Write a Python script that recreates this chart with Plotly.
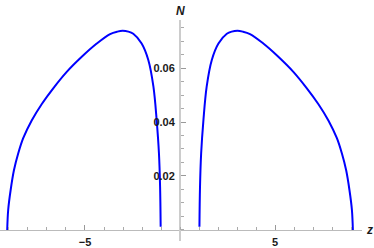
import plotly.graph_objects as go

# Left branch (z, N)
z_left = [-9.09, -9.04, -8.91, -8.74, -8.51, -8.25, -7.81, -7.28, -6.67, -5.96, -5.17, -4.38,
          -3.68, -3.30, -3.02, -2.72, -2.46, -2.02, -1.67, -1.40, -1.23, -1.11, -1.05, -1.02]
n_left = [0.0000, 0.0074, 0.0148, 0.0220, 0.0284, 0.0340, 0.0405, 0.0466, 0.0525, 0.0586, 0.0642, 0.0691,
          0.0726, 0.0735, 0.0738, 0.0735, 0.0727, 0.0691, 0.0630, 0.0531, 0.0407, 0.0284, 0.0160, 0.0012]

# Right branch (z, N)
z_right = [1.02, 1.05, 1.11, 1.23, 1.40, 1.67, 2.02, 2.46, 2.72, 3.02, 3.30, 3.68,
           4.38, 5.17, 5.96, 6.67, 7.28, 7.81, 8.25, 8.51, 8.74, 8.91, 9.04, 9.09]
n_right = [0.0012, 0.0160, 0.0284, 0.0407, 0.0531, 0.0630, 0.0691, 0.0727, 0.0735, 0.0738, 0.0735, 0.0726,
           0.0691, 0.0642, 0.0586, 0.0525, 0.0466, 0.0405, 0.0340, 0.0284, 0.0220, 0.0148, 0.0074, 0.0000]

x_ticks = [-5, 5]
x_tick_text = ["<b>\u22125</b>", "<b>5</b>"]
y_ticks = [0.02, 0.04, 0.06]
y_tick_text = ["<b>0.02</b>", "<b>0.04</b>", "<b>0.06</b>"]

x_range = [-9.47, 9.57]
y_range = [-0.0041, 0.0778]

line_style = dict(color="#0000ff", width=2, shape="spline", smoothing=1.0)

fig = go.Figure()
fig.add_trace(go.Scatter(x=z_left, y=n_left, mode="lines", line=line_style, hoverinfo="skip"))
fig.add_trace(go.Scatter(x=z_right, y=n_right, mode="lines", line=line_style, hoverinfo="skip"))

tick_font = dict(family="Liberation Sans, Arial, sans-serif", size=11, color="#1a1a1a")
y0_pos = (0 - y_range[0]) / (y_range[1] - y_range[0])
x0_pos = (0 - x_range[0]) / (x_range[1] - x_range[0])

fig.update_layout(
    width=374, height=248,
    margin=dict(l=0, r=12, t=20, b=7),
    paper_bgcolor="white", plot_bgcolor="white",
    showlegend=False,
    xaxis=dict(range=x_range, anchor="free", position=y0_pos,
               showgrid=False, zeroline=False, showline=True, linecolor="#bbbbbb", linewidth=1,
               tickvals=x_ticks, ticktext=x_tick_text, ticks="inside", ticklen=5,
               tickcolor="#999999", tickwidth=1, tickfont=tick_font,
               minor=dict(dtick=1, tick0=0, ticks="inside", ticklen=3, tickcolor="#aaaaaa", tickwidth=1),
               fixedrange=True, ticklabelstandoff=2),
    yaxis=dict(range=y_range, anchor="free", position=x0_pos,
               showgrid=False, zeroline=False, showline=True, linecolor="#cccccc", linewidth=2,
               tickvals=y_ticks, ticktext=y_tick_text, ticks="inside", ticklen=5,
               tickcolor="#999999", tickwidth=1, tickfont=tick_font,
               minor=dict(dtick=0.005, tick0=0, ticks="inside", ticklen=3, tickcolor="#aaaaaa", tickwidth=1),
               fixedrange=True, ticklabelstandoff=2),
    annotations=[
        dict(text="<b><i>N</i></b>", xref="x", yref="paper", x=0, y=1, yanchor="bottom",
             showarrow=False, font=dict(family="Liberation Sans, Arial, sans-serif", size=12, color="#1a1a1a")),
        dict(text="<b><i>z</i></b>", xref="paper", yref="y", x=1, y=0, xanchor="left",
             xshift=2, showarrow=False, font=dict(family="Liberation Sans, Arial, sans-serif", size=12, color="#1a1a1a")),
    ],
)

fig.write_html("out.html", config={"displayModeBar": False},
               post_script="document.body.style.margin='0';document.body.style.overflow='hidden';")
